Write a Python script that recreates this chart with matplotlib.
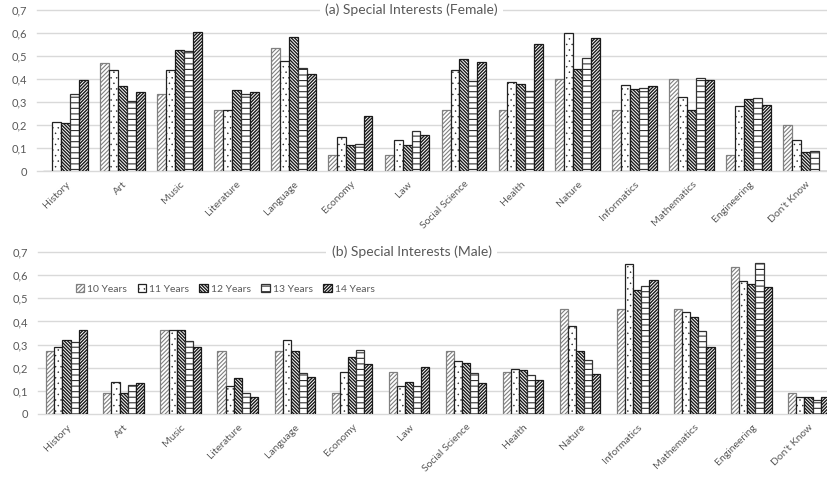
import numpy as np
import matplotlib
matplotlib.use("Agg")
import matplotlib.pyplot as plt
from matplotlib.transforms import blended_transform_factory

plt.rcParams['font.family'] = ['Lato', 'DejaVu Sans']
plt.rcParams['hatch.linewidth'] = 0.8

categories = ["History", "Art", "Music", "Literature", "Language", "Economy", "Law",
              "Social Science", "Health", "Nature", "Informatics", "Mathematics",
              "Engineering", "Don't Know"]
series_names = ["10 Years", "11 Years", "12 Years", "13 Years", "14 Years"]

female_10 = [0.0, 0.468, 0.333, 0.266, 0.534, 0.069, 0.069, 0.266, 0.266, 0.400, 0.266, 0.400, 0.069, 0.199]
female_11 = [0.214, 0.439, 0.439, 0.266, 0.479, 0.149, 0.136, 0.439, 0.388, 0.600, 0.372, 0.320, 0.281, 0.136]
female_12 = [0.209, 0.369, 0.527, 0.351, 0.583, 0.114, 0.114, 0.489, 0.377, 0.443, 0.358, 0.266, 0.313, 0.084]
female_13 = [0.333, 0.304, 0.521, 0.333, 0.450, 0.117, 0.175, 0.392, 0.348, 0.491, 0.362, 0.405, 0.317, 0.087]
female_14 = [0.395, 0.342, 0.605, 0.342, 0.420, 0.237, 0.157, 0.473, 0.551, 0.579, 0.368, 0.395, 0.289, 0.0]

male_10 = [0.274, 0.092, 0.363, 0.274, 0.274, 0.092, 0.183, 0.274, 0.183, 0.454, 0.454, 0.454, 0.635, 0.091]
male_11 = [0.288, 0.137, 0.363, 0.121, 0.320, 0.183, 0.122, 0.229, 0.196, 0.380, 0.650, 0.439, 0.575, 0.075]
male_12 = [0.320, 0.092, 0.363, 0.156, 0.274, 0.246, 0.137, 0.220, 0.192, 0.274, 0.536, 0.419, 0.562, 0.073]
male_13 = [0.310, 0.124, 0.316, 0.091, 0.177, 0.277, 0.122, 0.177, 0.169, 0.232, 0.555, 0.360, 0.654, 0.061]
male_14 = [0.363, 0.133, 0.290, 0.073, 0.160, 0.218, 0.203, 0.133, 0.146, 0.173, 0.579, 0.290, 0.549, 0.073]

yticks = [0, 0.1, 0.2, 0.3, 0.4, 0.5, 0.6, 0.7]
ytick_labels = ["0", "0,1", "0,2", "0,3", "0,4", "0,5", "0,6", "0,7"]

styles = [
    dict(edgecolor="#808080", hatch="/" * 8, hlw=0.8),
    dict(edgecolor="#222222", hatch="...", hlw=0.3),
    dict(edgecolor="#1a1a1a", hatch="\\" * 10, hlw=1.0),
    dict(edgecolor="#333333", hatch="---", hlw=0.8),
    dict(edgecolor="#1a1a1a", hatch="/" * 10, hlw=1.0),
]

W, H = 828, 479
fig = plt.figure(figsize=(W / 100, H / 100), dpi=100)


def style_patch(p, st):
    try:
        p.set_hatch_linewidth(st["hlw"])
    except Exception:
        pass


def make_panel(rect, data, title, bar_w, legend=False):
    ax = fig.add_axes(rect)
    x = np.arange(len(categories))
    handles = []
    for i, vals in enumerate(data):
        st = styles[i]
        b = ax.bar(x + (i - 2) * bar_w, vals, width=bar_w, facecolor="white",
                   linewidth=0.9, label=series_names[i], zorder=3,
                   edgecolor=st["edgecolor"], hatch=st["hatch"])
        for p in b:
            style_patch(p, st)
        handles.append(b)
    ax.set_xlim(-0.5, len(categories) - 0.5)
    ax.set_ylim(0, 0.7)
    ax.set_yticks(yticks)
    ax.set_yticklabels(ytick_labels, fontsize=8, color="#595959")
    ax.set_xticks(x)
    ax.set_xticklabels(categories, rotation=45, ha="right", va="top",
                       rotation_mode="anchor", fontsize=7.5, color="#595959")
    ax.tick_params(axis="both", length=0)
    ax.tick_params(axis="y", pad=7)
    ax.tick_params(axis="x", pad=6)
    for s in ax.spines.values():
        s.set_visible(False)
    for yv in yticks:
        ax.axhline(yv, color="#d9d9d9", linewidth=1.0, zorder=1, clip_on=False)
    tr = blended_transform_factory(fig.transFigure, ax.transAxes)
    ax.text(0.497, 1.0, title, transform=tr, ha="center", va="center",
            fontsize=10, color="#595959", zorder=5,
            bbox=dict(facecolor="white", edgecolor="none", pad=4))
    if legend:
        leg = fig.legend(handles=handles, labels=series_names, loc="center",
                         bbox_to_anchor=(0.272, 0.397), ncol=5, frameon=False,
                         fontsize=7.5, labelcolor="#595959", handlelength=0.8,
                         handleheight=0.8, handletextpad=0.3, columnspacing=1.0)
        for st, hp in zip(styles, leg.get_patches()):
            style_patch(hp, st)
    return ax


make_panel([37 / W, 1 - 171 / H, (834 - 37) / W, 161 / H],
           [female_10, female_11, female_12, female_13, female_14],
           "(a) Special Interests (Female)", 0.157)
make_panel([38 / W, 1 - 414 / H, (837 - 38) / W, 162 / H],
           [male_10, male_11, male_12, male_13, male_14],
           "(b) Special Interests (Male)", 0.142, legend=True)

fig.savefig("out.png", dpi=100)
